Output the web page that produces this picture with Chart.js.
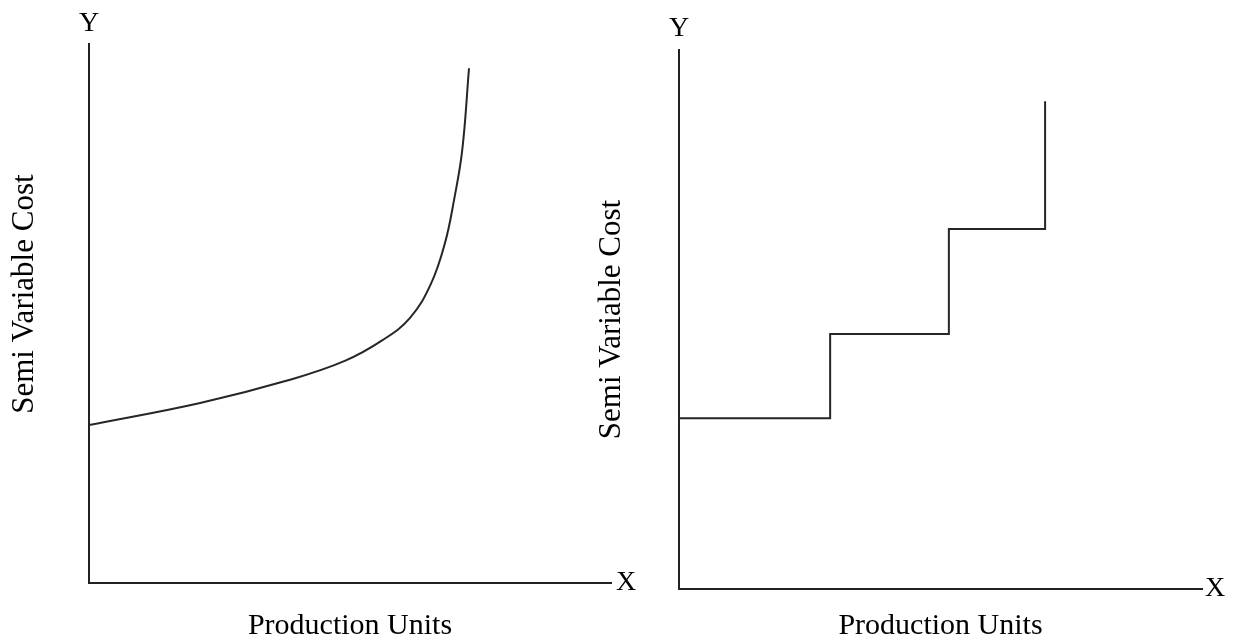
<!DOCTYPE html>
<html lang="en">
<head>
<meta charset="UTF-8">
<title>Semi Variable Cost</title>
<script src="https://cdn.jsdelivr.net/npm/chart.js"></script>
<style>
  html, body { margin: 0; padding: 0; background: #fff; }
  body { width: 1235px; height: 641px; position: relative; overflow: hidden; }
  .panel { position: absolute; top: 0; }
  #leftPanel { left: 0; }
  #rightPanel { left: 590px; }
</style>
</head>
<body>
<div class="panel" id="leftPanel"><canvas id="curveChart" width="650" height="641"></canvas></div>
<div class="panel" id="rightPanel"><canvas id="stepChart" width="645" height="641"></canvas></div>

<script>
// left panel: curved semi variable cost (0-100 both ways)
const curveX = [0, 21.3, 38.5, 49.0, 56.3, 61.5, 65.5, 68.2, 69.9, 71.5, 72.8];
const curveY = [29.3, 33.4, 37.7, 41.2, 45.1, 49.2, 55.5, 63.1, 70.9, 80.3, 95.5];

// right panel: stepped semi variable cost
const stepX = [0, 28.9, 51.6, 70.0];
const stepY = [31.7, 47.3, 66.8, 90.5];

const yTitle = 'Semi Variable Cost';
const xTitle = 'Production Units';
const yMark = 'Y';
const xMark = 'X';

const serif = '"Liberation Serif", "Times New Roman", serif';
const ink = '#000';
const axisColor = '#222';

function buildChart(id, xs, ys, opt) {
    const points = xs.map((x, i) => ({ x: x, y: ys[i] }));
    const markFont = { family: serif, size: 28, lineHeight: 1 };
    const xTitleFont = { family: serif, size: 30, lineHeight: 1 };
    const yTitleFont = { family: serif, size: 31, lineHeight: 1 };

    return new Chart(document.getElementById(id), {
        type: 'line',
        data: {
            datasets: [{
                data: points,
                borderColor: '#262626',
                borderWidth: 2,
                pointRadius: 0,
                fill: false,
                stepped: opt.stepped,
                tension: opt.stepped ? 0 : 0.4
            }]
        },
        options: {
            responsive: false,
            animation: false,
            devicePixelRatio: 1,
            layout: { padding: 0 },
            plugins: { legend: { display: false }, tooltip: { enabled: false } },
            scales: {
                x: {
                    type: 'linear', position: 'bottom', min: 0, max: 100,
                    grid: { display: false, drawTicks: false },
                    ticks: { display: false },
                    border: { display: true, color: axisColor, width: 2 },
                    title: { display: true, text: xTitle, color: ink, font: xTitleFont, padding: { top: 0, bottom: 0 } },
                    afterFit: s => { s.height = opt.bottom; }
                },
                xTop: {
                    type: 'linear', position: 'top', min: 0, max: 100,
                    grid: { display: false, drawTicks: false },
                    border: { display: false },
                    afterBuildTicks: s => { s.ticks = [{ value: 0 }]; },
                    ticks: { callback: () => yMark, padding: opt.yMarkPad, maxRotation: 0, autoSkip: false, color: ink, font: markFont },
                    afterFit: s => { s.height = opt.top; }
                },
                y: {
                    type: 'linear', position: 'left', min: 0, max: 100,
                    grid: { display: false, drawTicks: false },
                    ticks: { display: false },
                    border: { display: true, color: axisColor, width: 2 },
                    title: { display: true, text: opt.yText, color: ink, font: yTitleFont, padding: { top: opt.yTitlePad, bottom: 0 } },
                    afterFit: s => { s.width = opt.left; }
                },
                yRight: {
                    type: 'linear', position: 'right', min: 0, max: 100,
                    grid: { display: false, drawTicks: false },
                    border: { display: false },
                    afterBuildTicks: s => { s.ticks = [{ value: 0 }]; },
                    ticks: { callback: () => xMark, padding: opt.xMarkPad, autoSkip: false, color: ink, font: markFont },
                    afterFit: s => { s.width = opt.right; }
                }
            }
        }
    });
}

// left title sits a little above the middle of its axis in the original
buildChart('curveChart', curveX, curveY, {
    stepped: false, left: 89, top: 44, bottom: 58, right: 39,
    yMarkPad: 6, xMarkPad: 5, yTitlePad: 9, yText: '     ' + yTitle
});

buildChart('stepChart', stepX, stepY, {
    stepped: 'before', left: 89, top: 50, bottom: 52, right: 33,
    yMarkPad: 7, xMarkPad: 3, yTitlePad: 6, yText: yTitle
});
</script>
</body>
</html>
